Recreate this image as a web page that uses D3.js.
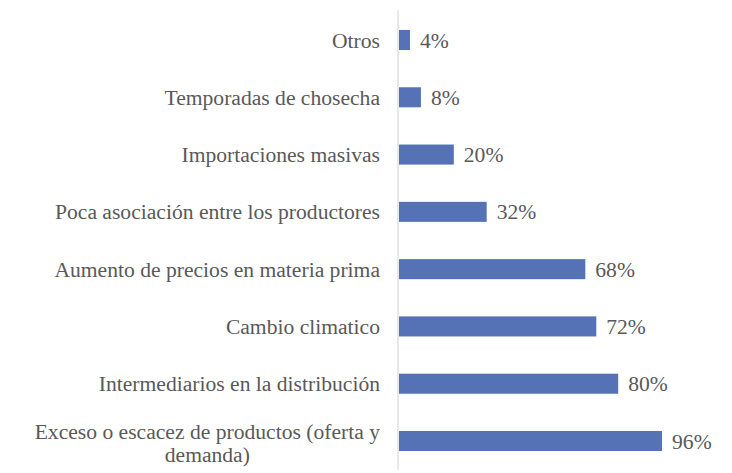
<!DOCTYPE html>
<html>
<head>
<meta charset="utf-8">
<script src="https://cdn.jsdelivr.net/npm/d3@7"></script>
<style>
  body { margin: 0; background: #fff; }
</style>
</head>
<body>
<div id="my_dataviz"></div>
<script>
// categories top to bottom, values in percent
var categories = [
    "Otros",
    "Temporadas de chosecha",
    "Importaciones masivas",
    "Poca asociación entre los productores",
    "Aumento de precios en materia prima",
    "Cambio climatico",
    "Intermediarios en la distribución",
    "Exceso o escacez de productos (oferta y demanda)"
];
var values = [4, 8, 20, 32, 68, 72, 80, 96];

var width = 732, height = 473;
var axisX = 398;
var fontFam = "'Liberation Serif'";
var fontSize = "21.6px";

// wait for the serif face before measuring text for wrapping
document.fonts.load(fontSize + " " + fontFam).then(draw, draw);

function draw() {
    var svg = d3.select("#my_dataviz")
        .append("svg")
        .attr("width", width)
        .attr("height", height);

    var x = d3.scaleLinear()
        .domain([0, 100])
        .range([axisX, axisX + 274]);

    var y = d3.scaleBand()
        .domain(categories)
        .range([11.35, 469.65])
        .paddingInner(0.65)
        .paddingOuter(0.325);

    var data = categories.map(function(c, i) { return { name: c, value: values[i] }; });

    // bars
    svg.append("g")
        .selectAll("rect")
        .data(data)
        .enter()
        .append("rect")
        .attr("x", x(0) + 1)
        .attr("y", function(d) { return y(d.name); })
        .attr("width", function(d) { return x(d.value) - x(0); })
        .attr("height", y.bandwidth())
        .attr("fill", "#5472b5");

    // vertical axis line
    svg.append("line")
        .attr("x1", axisX).attr("x2", axisX)
        .attr("y1", y.range()[0] - 1).attr("y2", y.range()[1])
        .attr("stroke", "#d9d9d9")
        .attr("stroke-width", 1.2);

    // value labels
    svg.append("g")
        .selectAll("text")
        .data(data)
        .enter()
        .append("text")
        .attr("x", function(d) { return x(d.value) + 11; })
        .attr("y", function(d) { return y(d.name) + y.bandwidth() / 2; })
        .attr("dy", ".35em")
        .style("font-family", fontFam)
        .style("font-size", fontSize)
        .style("fill", "#595959")
        .text(function(d) { return d.value + "%"; });

    // category labels, wrapped when too long
    var labels = svg.append("g")
        .selectAll("text")
        .data(data)
        .enter()
        .append("text")
        .style("font-family", fontFam)
        .style("font-size", fontSize)
        .style("fill", "#595959")
        .attr("text-anchor", "end")
        .attr("x", 380)
        .attr("y", function(d) { return y(d.name) + y.bandwidth() / 2; })
        .attr("dy", ".35em")
        .text(function(d) { return d.name; });

    labels.each(function(d) {
        var text = d3.select(this);
        if (this.getComputedTextLength() <= 355) return;
        var words = d.name.split(" ");
        var line = [], lines = [];
        text.text(null);
        var probe = text.append("tspan");
        words.forEach(function(w) {
            line.push(w);
            probe.text(line.join(" "));
            if (probe.node().getComputedTextLength() > 355 && line.length > 1) {
                line.pop();
                lines.push(line.join(" "));
                line = [w];
            }
        });
        lines.push(line.join(" "));
        probe.remove();
        var cy = y(d.name) + y.bandwidth() / 2 + 2;
        var lh = 23;
        lines.forEach(function(l) {
            text.append("tspan").text(l);
        });
        var spans = text.selectAll("tspan").nodes();
        var firstW = spans[0].getComputedTextLength();
        // first line ends at the label edge, following lines centred under it
        text.attr("text-anchor", "middle");
        spans.forEach(function(s, i) {
            d3.select(s)
                .attr("x", 380 - firstW / 2)
                .attr("y", cy + (i - (lines.length - 1) / 2) * lh)
                .attr("dy", ".35em");
        });
    });
}
</script>
</body>
</html>
